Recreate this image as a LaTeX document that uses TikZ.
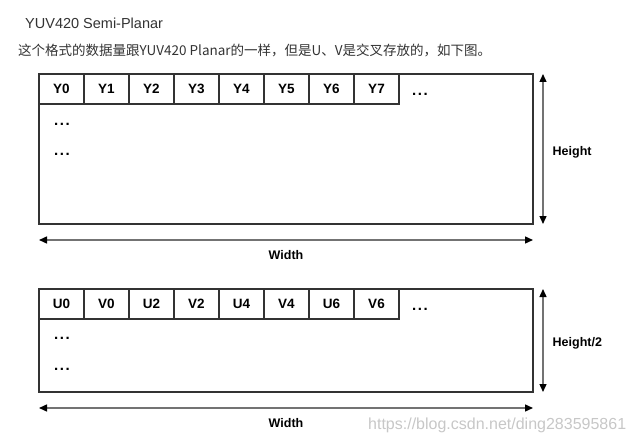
\documentclass[tikz,border=0pt]{standalone}
\usepackage{fontspec}
\setmainfont{Liberation Sans}
\newfontfamily\cjk{Noto Sans CJK SC}
\usetikzlibrary{positioning, arrows.meta}

\begin{document}
\begin{tikzpicture}[
    x=1pt, y=-1pt,
    frame/.style={rectangle, draw=black!80, line width=2pt, inner sep=0pt, outer sep=0pt, anchor=north west, minimum width=494pt},
    cell/.style={rectangle, draw=black!80, line width=1.2pt, inner sep=0pt, outer sep=0pt, minimum width=45pt, minimum height=30pt, font=\fontsize{13.5}{15}\selectfont\bfseries},
    dots/.style={inner sep=0pt, font=\fontsize{15}{15}\selectfont\bfseries},
    dim/.style={{Triangle[length=8pt, width=7pt, color=black]}-{Triangle[length=8pt, width=7pt, color=black]}, draw=black!55, line width=1.4pt},
    dimlabel/.style={font=\fontsize{12.5}{15}\selectfont\bfseries, inner sep=0pt},
    caption/.style={anchor=west, inner sep=0pt, text=black!80}
]
\newcommand{\threedots}{.\kern1.6pt.\kern1.6pt.}
\useasboundingbox (0,0) rectangle (633,444);

% Captions
\node (title) [caption, font=\fontsize{14.5}{16}\selectfont] at (25,23) {YUV420 Semi-Planar};
\node (note) [caption, font=\cjk\fontsize{13.5}{16}\selectfont] at (18,50) {这个格式的数据量跟YUV420 Planar的一样，但是U、V是交叉存放的，如下图。};

% Y plane
\node (yplane) [frame, minimum height=150pt] at (39,74) {};
\node (y0) [cell, anchor=north west] at (yplane.north west) {Y0};
\node (y1) [cell, right=0pt of y0] {Y1};
\node (y2) [cell, right=0pt of y1] {Y2};
\node (y3) [cell, right=0pt of y2] {Y3};
\node (y4) [cell, right=0pt of y3] {Y4};
\node (y5) [cell, right=0pt of y4] {Y5};
\node (y6) [cell, right=0pt of y5] {Y6};
\node (y7) [cell, right=0pt of y6] {Y7};
\node (ydots) [dots, right=13pt of y7, yshift=-5pt] {\threedots};
\node (ydots1) [dots, anchor=west] at (54,124) {\threedots};
\node (ydots2) [dots, anchor=west] at (54,154) {\threedots};

% UV plane
\node (uvplane) [frame, minimum height=103pt] at (39,289) {};
\node (u0) [cell, anchor=north west] at (uvplane.north west) {U0};
\node (v0) [cell, right=0pt of u0] {V0};
\node (u2) [cell, right=0pt of v0] {U2};
\node (v2) [cell, right=0pt of u2] {V2};
\node (u4) [cell, right=0pt of v2] {U4};
\node (v4) [cell, right=0pt of u4] {V4};
\node (u6) [cell, right=0pt of v4] {U6};
\node (v6) [cell, right=0pt of u6] {V6};
\node (uvdots) [dots, right=13pt of v6, yshift=-5pt] {\threedots};
\node (uvdots1) [dots, anchor=west] at (54,338) {\threedots};
\node (uvdots2) [dots, anchor=west] at (54,369) {\threedots};

% Dimensions
\draw [dim] ([xshift=10pt]yplane.north east) -- ([xshift=10pt]yplane.south east)
    node (yheight) [dimlabel, midway, right=9pt, yshift=-3pt] {Height};
\draw [dim] ([yshift=-16pt]yplane.south west) -- ([yshift=-16pt]yplane.south east)
    node (ywidth) [dimlabel, midway, below=10pt] {Width};
\draw [dim] ([xshift=10pt]uvplane.north east) -- ([xshift=10pt]uvplane.south east)
    node (uvheight) [dimlabel, midway, right=9pt, yshift=-3pt] {Height/2};
\draw [dim] ([yshift=-16pt]uvplane.south west) -- ([yshift=-16pt]uvplane.south east)
    node (uvwidth) [dimlabel, midway, below=10pt] {Width};

% Watermark
\node (mark) [anchor=west, inner sep=0pt, text=black!22, font=\fontsize{16}{18}\selectfont] at (368,425) {https://blog.csdn.net/ding283595861};

\end{tikzpicture}
\end{document}
